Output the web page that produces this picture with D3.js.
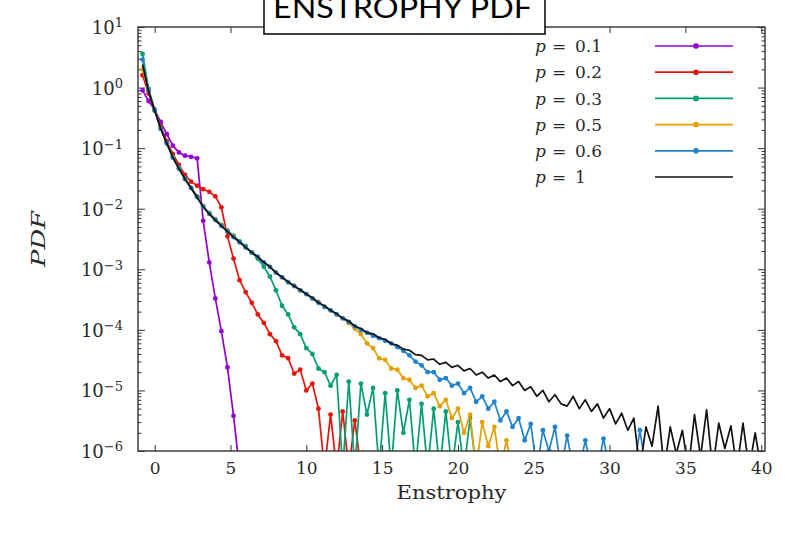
<!DOCTYPE html>
<html>
<head>
<meta charset="utf-8">
<script src="https://cdn.jsdelivr.net/npm/d3@7"></script>
<style>
  body { margin: 0; background: #fff; }
  svg { display: block; }
  text { font-family: "DejaVu Serif", "Liberation Serif", serif; fill: #2a2a2a; }
  .tick line { stroke: #333; }
</style>
</head>
<body>
<svg width="785" height="534"></svg>
<script>
// histogram bins: centre of bin i is binStart + i * binWidth
const binStart = -0.8;
const binWidth = 0.4;

const labels = ['0.1', '0.2', '0.3', '0.5', '0.6', '1'];
const colors = ['#9400d3', '#e8140c', '#009e73', '#e69f00', '#1f82cc', '#111111'];

const pdfP01 = [0.9, 0.6, 0.43, 0.27, 0.17, 0.11, 0.085, 0.075, 0.072, 0.068,
  6.3e-3, 1.3e-3, 3.3e-4, 9.5e-5, 2.4e-5, 3.8e-6, 5e-7];

const pdfP02 = [1.6, 0.8, 0.42, 0.23, 0.13, 0.08, 0.053, 0.036, 0.028, 0.024,
  0.021, 0.019, 0.016, 0.0105, 0.0035, 1.5e-3, 6.6e-4, 4.2e-4, 2.8e-4, 1.8e-4,
  1.3e-4, 8.5e-5, 6.5e-5, 3.8e-5, 3.4e-5, 1.9e-5, 2.2e-5, 1.0e-5, 1.3e-5, 5e-6,
  5e-7, 4e-6, 5e-7, 4.5e-6, 5e-7, 3.2e-6, 5e-7];

const pdfP03 = [3.6, 0.95, 0.43, 0.21, 0.12, 0.072, 0.047, 0.031, 0.022, 0.016,
  0.011, 0.0085, 0.0067, 0.0054, 0.0044, 0.0036, 0.0029, 0.0024, 1.9e-3, 1.5e-3,
  1.1e-3, 7.6e-4, 4.5e-4, 2.5e-4, 1.8e-4, 1.1e-4, 8.5e-5, 5.0e-5, 4.0e-5, 2.3e-5,
  2.0e-5, 1.2e-5, 1.8e-5, 5e-7, 1.4e-5, 5e-7, 1.3e-5, 4e-6, 1.1e-5, 5e-7,
  9e-6, 5e-7, 1.0e-5, 2e-6, 7e-6, 5e-7, 6e-6, 5e-7, 5e-6, 5e-7,
  4.5e-6, 5e-7, 3e-6, 5e-7, 3.5e-6, 5e-7];

const pdfP05 = [2.0, 0.9, 0.42, 0.21, 0.12, 0.07, 0.046, 0.031, 0.022, 0.0157,
  0.0108, 0.0083, 0.0066, 0.0053, 0.0043, 0.0035, 0.0028, 0.0023, 0.0019, 0.0016,
  0.0013, 0.0011, 8.9e-4, 7.3e-4, 6.2e-4, 5.3e-4, 4.5e-4, 3.9e-4, 3.3e-4, 2.9e-4,
  2.4e-4, 2.1e-4, 1.8e-4, 1.55e-4, 1.3e-4, 1.05e-4, 8.5e-5, 6.0e-5, 5.0e-5, 3.4e-5,
  3.2e-5, 2.3e-5, 2.2e-5, 1.6e-5, 1.5e-5, 1.1e-5, 1.2e-5, 8e-6, 9e-6, 5.5e-6,
  7e-6, 3.5e-6, 5e-6, 2.0e-6, 4e-6, 5e-7, 3e-6, 1.2e-6, 2.5e-6, 5e-7,
  1.5e-6, 5e-7];

const pdfP06 = [2.9, 0.9, 0.42, 0.21, 0.12, 0.07, 0.046, 0.031, 0.022, 0.0155,
  0.0107, 0.0082, 0.0065, 0.0052, 0.0042, 0.0034, 0.0028, 0.0023, 0.0019, 0.0016,
  0.0013, 0.0011, 8.8e-4, 7.4e-4, 6.1e-4, 5.3e-4, 4.5e-4, 3.9e-4, 3.3e-4, 2.8e-4,
  2.4e-4, 2.1e-4, 1.8e-4, 1.55e-4, 1.35e-4, 1.15e-4, 1.0e-4, 9.0e-5, 8.0e-5, 7.3e-5,
  6.6e-5, 6.0e-5, 5.2e-5, 4.5e-5, 3.8e-5, 3.0e-5, 2.6e-5, 2.0e-5, 2.0e-5, 1.5e-5,
  1.6e-5, 1.2e-5, 1.3e-5, 9e-6, 1.1e-5, 6.5e-6, 8e-6, 5e-6, 6.5e-6, 3.2e-6,
  4.5e-6, 2.5e-6, 3.5e-6, 1.5e-6, 2.8e-6, 5e-7, 2.2e-6, 1.0e-6, 2.5e-6, 5e-7,
  1.8e-6, 5e-7, 5e-7, 1.5e-6, 5e-7, 5e-7, 1.6e-6, 5e-7, 5e-7, 5e-7,
  5e-7, 5e-7, 2.2e-6, 5e-7];

const pdfP1 = [2.4, 0.85, 0.42, 0.21, 0.12, 0.07, 0.046, 0.031, 0.022, 0.0155,
  0.0108, 0.0082, 0.0065, 0.0052, 0.0042, 0.0034, 0.0028, 0.0023, 0.0019, 0.0016,
  0.0013, 0.0011, 8.8e-4, 7.4e-4, 6.2e-4, 5.3e-4, 4.6e-4, 3.9e-4, 3.4e-4, 2.8e-4,
  2.5e-4, 2.1e-4, 1.85e-4, 1.55e-4, 1.4e-4, 1.15e-4, 1.05e-4, 9.0e-5, 8.6e-5, 7.4e-5,
  7.0e-5, 5.9e-5, 5.6e-5, 4.8e-5, 4.6e-5, 3.9e-5, 3.8e-5, 3.2e-5, 3.3e-5, 2.7e-5,
  2.9e-5, 2.4e-5, 2.6e-5, 2.1e-5, 2.3e-5, 1.8e-5, 2.0e-5, 1.6e-5, 1.8e-5, 1.4e-5,
  1.6e-5, 1.2e-5, 1.4e-5, 1.0e-5, 1.15e-5, 8.0e-6, 1.0e-5, 6.5e-6, 8.5e-6, 6.0e-6,
  5.5e-6, 8.0e-6, 5.0e-6, 7.0e-6, 4.5e-6, 6.0e-6, 3.5e-6, 5.0e-6, 2.8e-6, 4.2e-6,
  2.2e-6, 3.5e-6, 5e-7, 2.5e-6, 1.2e-6, 5.5e-6, 5e-7, 2.5e-6, 9e-7, 2.2e-6,
  5e-7, 4.0e-6, 8e-7, 4.8e-6, 5e-7, 2.9e-6, 1.1e-6, 2.6e-6, 5e-7, 2.9e-6,
  5e-7, 2.0e-6, 5e-7];

const pdfs = [pdfP01, pdfP02, pdfP03, pdfP05, pdfP06, pdfP1];
const withPoints = [true, true, true, true, true, false];

const xTicks = [0, 5, 10, 15, 20, 25, 30, 35, 40];
const yTicks = [1e-6, 1e-5, 1e-4, 1e-3, 1e-2, 1e-1, 1, 10];
const yExponents = ['−6', '−5', '−4', '−3', '−2', '−1', '0', '1'];

const plotLeft = 138, plotRight = 765, plotTop = 27, plotBottom = 451;
const svg = d3.select('svg');

const scaleX = d3.scaleLinear().domain([-1.1, 40.25]).range([plotLeft, plotRight]);
const scaleY = d3.scaleLog().domain([1e-6, 10]).range([plotBottom, plotTop]);

const yMinor = [];
yTicks.slice(0, -1).forEach(t => {
  for (let k = 2; k < 10; k++) yMinor.push(t * k);
});

svg.append('defs')
  .append('clipPath')
    .attr('id', 'plot-clip')
  .append('rect')
    .attr('x', plotLeft)
    .attr('y', plotTop)
    .attr('width', plotRight - plotLeft)
    .attr('height', plotBottom - plotTop)
;

// ticks, all pointing inward (mirrored on top and right)
const bottomAxis = svg.append('g')
  .attr('transform', `translate(0,${plotBottom})`)
  .call(d3.axisBottom(scaleX).tickValues(xTicks).tickSize(-6).tickSizeOuter(0).tickPadding(11));
bottomAxis.selectAll('text').style('font-size', '17px');

svg.append('g')
  .attr('transform', `translate(0,${plotTop})`)
  .call(d3.axisTop(scaleX).tickValues(xTicks).tickSize(-6).tickSizeOuter(0).tickFormat(''));

const leftAxis = svg.append('g')
  .attr('transform', `translate(${plotLeft},0)`)
  .call(d3.axisLeft(scaleY).tickValues(yTicks).tickSize(-7).tickSizeOuter(0).tickPadding(15));

leftAxis.selectAll('text')
  .text(null)
  .style('font-size', '18px')
  .attr('dy', '0.36em')
  .each(function (d, i) {
    const t = d3.select(this);
    t.append('tspan').text('10');
    t.append('tspan')
      .text(yExponents[i])
      .attr('dy', '-0.5em')
      .style('font-size', '13px');
  })
;

svg.append('g')
  .attr('transform', `translate(${plotLeft},0)`)
  .call(d3.axisLeft(scaleY).tickValues(yMinor).tickSize(-3.5).tickSizeOuter(0).tickFormat(''));

svg.append('g')
  .attr('transform', `translate(${plotRight},0)`)
  .call(d3.axisRight(scaleY).tickValues(yTicks).tickSize(-7).tickSizeOuter(0).tickFormat(''));

svg.append('g')
  .attr('transform', `translate(${plotRight},0)`)
  .call(d3.axisRight(scaleY).tickValues(yMinor).tickSize(-3.5).tickSizeOuter(0).tickFormat(''));

svg.selectAll('.domain').remove();

const line = d3.line()
  .x((d, i) => scaleX(binStart + i * binWidth))
  .y(d => scaleY(d));

const plot = svg.append('g').attr('clip-path', 'url(#plot-clip)');

pdfs.forEach((values, s) => {
  plot.append('path')
    .datum(values)
    .attr('d', line)
    .attr('fill', 'none')
    .attr('stroke', colors[s])
    .attr('stroke-width', 1.7)
    .attr('stroke-linejoin', 'round')
  ;
  if (withPoints[s]) {
    plot.append('g')
      .selectAll('circle')
      .data(values)
      .enter()
      .append('circle')
        .attr('cx', (d, i) => scaleX(binStart + i * binWidth))
        .attr('cy', d => scaleY(d))
        .attr('r', 2.4)
        .attr('fill', colors[s])
    ;
  }
});

svg.append('rect')
  .attr('x', plotLeft)
  .attr('y', plotTop)
  .attr('width', plotRight - plotLeft)
  .attr('height', plotBottom - plotTop)
  .attr('fill', 'none')
  .attr('stroke', '#333')
  .attr('stroke-width', 1.4)
;

// legend: "p = value" laid out like math text
const legend = svg.append('g')
  .selectAll('g')
  .data(labels)
  .enter()
  .append('g')
    .attr('transform', (d, i) => `translate(0,${46 + i * 26.2})`)
;
legend.append('text')
    .attr('x', 535)
    .attr('dy', '0.36em')
    .text('p')
    .style('font-size', '17px')
    .style('font-style', 'italic')
;
legend.append('text')
    .attr('x', 552)
    .attr('dy', '0.36em')
    .text('=')
    .style('font-size', '17px')
;
legend.append('text')
    .attr('x', 575)
    .attr('dy', '0.36em')
    .text(d => d)
    .style('font-size', '17px')
;
legend.append('line')
  .attr('x1', 655)
  .attr('x2', 733)
  .attr('stroke', (d, i) => colors[i])
  .attr('stroke-width', 1.7)
;
legend.filter((d, i) => withPoints[i])
  .append('circle')
    .attr('cx', 696)
    .attr('r', 2.8)
    .attr('fill', (d, i) => colors[i])
;

svg.append('text')
  .text('Enstrophy')
  .attr('x', (plotLeft + plotRight) / 2)
  .attr('y', 499)
  .attr('text-anchor', 'middle')
  .attr('textLength', 110)
  .attr('lengthAdjust', 'spacingAndGlyphs')
  .style('font-size', '18px')
;

svg.append('text')
  .text('PDF')
  .attr('transform', 'translate(38,239) rotate(-90)')
  .attr('text-anchor', 'middle')
  .attr('dy', '0.35em')
  .attr('textLength', 56)
  .attr('lengthAdjust', 'spacingAndGlyphs')
  .style('font-size', '19px')
  .style('font-style', 'italic')
;

// title box pasted over the top of the frame
svg.append('rect')
  .attr('x', 264)
  .attr('y', -3)
  .attr('width', 281)
  .attr('height', 37)
  .attr('fill', '#fff')
  .attr('stroke', '#000')
  .attr('stroke-width', 1.5)
;
svg.append('text')
  .text('ENSTROPHY PDF')
  .attr('x', 273)
  .attr('y', 18)
  .attr('textLength', 259)
  .attr('lengthAdjust', 'spacingAndGlyphs')
  .style('font-family', 'Lato, "Open Sans", sans-serif')
  .style('font-size', '29px')
  .style('fill', '#000')
;
</script>
</body>
</html>
